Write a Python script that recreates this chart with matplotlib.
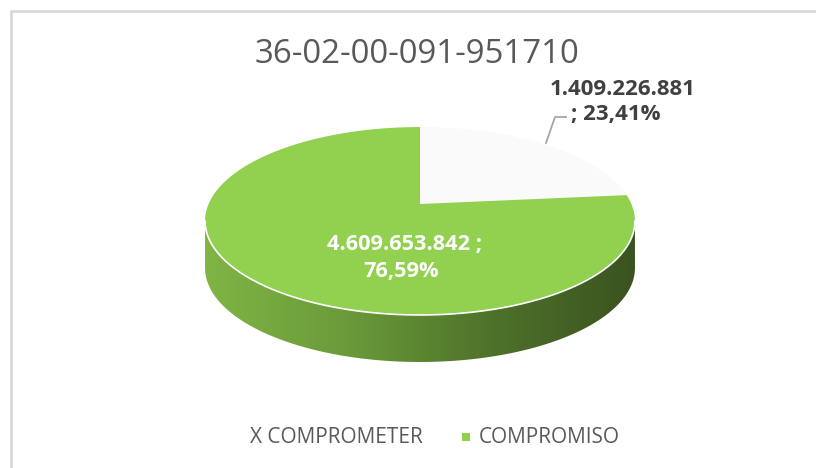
import numpy as np
import matplotlib.pyplot as plt
from matplotlib.patches import Polygon, Rectangle
from matplotlib.colors import LinearSegmentedColormap

# chart data
title = "36-02-00-091-951710"
categories = ["X COMPROMETER", "COMPROMISO"]
values = [1409226881, 4609653842]
value_labels = [["1.409.226.881", "; 23,41%"], ["4.609.653.842 ;", "76,59%"]]
slice_colors = ["#FAFAFA", "#92D050"]
legend_colors = ["#FFFFFF", "#92D050"]

plt.rcParams['font.family'] = ['Open Sans', 'DejaVu Sans']

fig = plt.figure(figsize=(8.16, 4.68), dpi=100)
ax = fig.add_axes([0, 0, 1, 1])
ax.set_xlim(0, 816)
ax.set_ylim(468, 0)
renderer = fig.canvas.get_renderer()


def fit_width(t, width):
    # scale the font so the text spans the given pixel width
    bb = t.get_window_extent(renderer)
    t.set_fontsize(t.get_fontsize() * width / bb.width)
    return t.get_fontsize()


# pie geometry in pixel space (3D look with a bit of perspective)
cx, cy = 420, 204
A, B, k = 211.4, 90.9, 0.181
depth = 47


def proj(theta, dz=0.0):
    u = np.sin(theta)
    v = -np.cos(theta)
    d = 1 - k * v
    return cx + A * u / d, cy + B * v / d + dz


# side wall (visible front part)
t_r = np.arccos(-k)
t_l = 2 * np.pi - t_r
ts = np.linspace(t_r, t_l, 200)
xt, yt = proj(ts)
xb, yb = proj(ts[::-1], depth)
side = Polygon(np.column_stack([np.r_[xt, xb], np.r_[yt, yb]]),
               closed=True, facecolor="none", edgecolor="none")
ax.add_patch(side)
side_cmap = LinearSegmentedColormap.from_list(
    "side", ["#80B545", "#6A9A3A", "#4E722A", "#3A5220"])
grad = np.linspace(0, 1, 256).reshape(1, -1)
im = ax.imshow(grad, cmap=side_cmap, aspect="auto",
               extent=[xt.min() - 2, xt.max() + 2, yb.max() + 2, yt.min() - 2])
im.set_clip_path(side)

# top face slices, clockwise from 12 o'clock
fracs = np.array(values) / np.sum(values)
start = 0.0
for frac, col in zip(fracs, slice_colors):
    th = np.linspace(start, start + frac * 2 * np.pi, 200)
    px, py = proj(th)
    ax.add_patch(Polygon(np.column_stack([np.r_[cx, px], np.r_[cy, py]]),
                         closed=True, facecolor=col, edgecolor="none"))
    start += frac * 2 * np.pi

# highlight along the front edge of the top face
ax.plot(xt, yt, color="white", lw=1.2)

# title
t = ax.text(417, 63, title, ha="center", va="baseline", fontsize=22,
            color="#595959")
fit_width(t, 325)

# data labels (one text per line, like the wrapped Excel labels)
t1 = ax.text(623, 95, value_labels[0][0], ha="center", va="baseline",
             fontsize=15, fontweight="bold", color="#404040")
fs1 = fit_width(t1, 147)
ax.text(616, 120, value_labels[0][1], ha="center", va="baseline",
        fontsize=fs1, fontweight="bold", color="#404040")
ax.plot([566, 555, 546], [117, 117, 143], color="#A6A6A6", lw=1.3)

t2 = ax.text(405, 250, value_labels[1][0], ha="center", va="baseline",
             fontsize=15, fontweight="bold", color="white")
fs2 = fit_width(t2, 156)
ax.text(401.5, 277, value_labels[1][1], ha="center", va="baseline",
        fontsize=fs2, fontweight="bold", color="white")

# legend
leg_items = [(240, 250, 173), (466, 479, 141)]
for (mx, tx, w), name, col in zip(leg_items, categories, legend_colors):
    ax.add_patch(Rectangle((mx - 4, 433), 8, 8, facecolor=col, edgecolor="none"))
    lt = ax.text(tx, 443, name, ha="left", va="baseline", fontsize=15,
                 color="#595959")
    fit_width(lt, w)

# chart frame
ax.plot([11, 11, 816], [468, 11, 11], color="#D9D9D9", lw=2)

ax.set_xlim(0, 816)
ax.set_ylim(468, 0)
ax.axis("off")

fig.savefig("out.png", dpi=100)
